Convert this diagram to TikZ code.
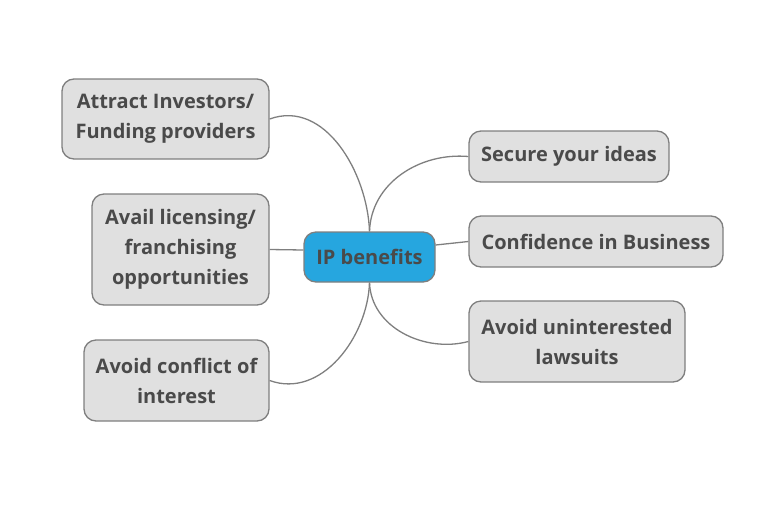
\documentclass[tikz,border=0pt]{standalone}
\usepackage{fontspec}
\setmainfont{Open Sans}
\usepackage{xcolor}
\usepackage{tikz}
\usetikzlibrary{positioning}

\definecolor{boxfill}{HTML}{E0E0E0}
\definecolor{boxline}{HTML}{7F7F7F}
\definecolor{txtgray}{HTML}{4A4A4A}
\definecolor{ipblue}{HTML}{26A6DF}

\begin{document}
\begin{tikzpicture}[
x=1pt,y=-1pt,
box/.style={draw=boxline,fill=boxfill,line width=1.3pt,rounded corners=12pt,align=center,
  text=txtgray,font=\fontsize{20}{30}\selectfont\bfseries,inner sep=0pt},
link/.style={draw=boxline,line width=1.3pt}
]
\useasboundingbox (0,0) rectangle (768,512);
\node[box,fill=ipblue,minimum width=131,minimum height=50] (ip) at (369.5,257) {IP benefits};
\node[box,minimum width=207,minimum height=80] (invest) at (165.5,119) {Attract Investors/\\Funding providers};
\node[box,minimum width=177,minimum height=111] (avail) at (180.5,249.5) {Avail licensing/\\franchising\\opportunities};
\node[box,minimum width=185,minimum height=81] (conflict) at (176.5,380.5) {Avoid conflict of\\interest};
\node[box,minimum width=200,minimum height=51] (secure) at (569,156.5) {Secure your ideas};
\node[box,minimum width=254,minimum height=51] (confid) at (596,241.5) {Confidence in Business};
\node[box,minimum width=216,minimum height=81] (lawsuit) at (577,341.5) {Avoid uninterested\\lawsuits};
% links
\draw[link] (ip.north) to[out=92,in=20] (invest.east);
\draw[link] (ip.north) to[out=88,in=175] (secure.west);
\draw[link] ([yshift=7pt]ip.west) -- (avail.east);
\draw[link] ([yshift=12pt]ip.east) -- (confid.west);
\draw[link] (ip.south) to[out=-92,in=-20] (conflict.east);
\draw[link] (ip.south) to[out=-88,in=195] (lawsuit.west);
\end{tikzpicture}
\end{document}
